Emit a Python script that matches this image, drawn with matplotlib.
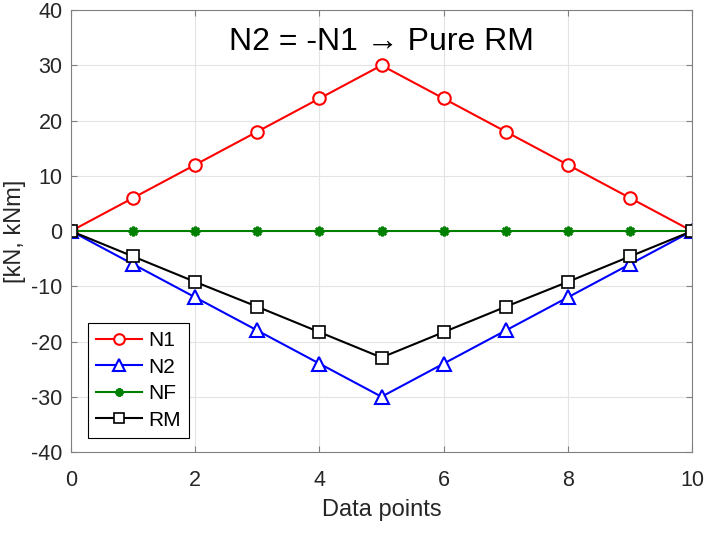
import matplotlib
matplotlib.use("Agg")
import matplotlib.pyplot as plt

plt.rcParams["font.family"] = ["Liberation Sans", "DejaVu Sans"]
plt.rcParams["axes.unicode_minus"] = False

x = list(range(11))
n1 = [0, 6, 12, 18, 24, 30, 24, 18, 12, 6, 0]
n2 = [0, -6, -12, -18, -24, -30, -24, -18, -12, -6, 0]
nf = [0] * 11
rm = [0, -4.6, -9.2, -13.7, -18.3, -22.9, -18.3, -13.7, -9.2, -4.6, 0]

fig = plt.figure(figsize=(7.12, 5.33), dpi=100)
ax = fig.add_axes([0.0997, 0.152, 0.8723, 0.829])

ax.plot(x, n1, color="#ff0000", marker="o", ms=9, mfc="white", mew=1.5, lw=1.5, label="N1")
ax.plot(x, n2, color="#0000ff", marker="^", ms=10, mfc="white", mew=1.5, lw=1.5, label="N2")
ax.plot(x, nf, color="#008000", marker=(8, 2, 0), ms=7, mew=1.8, lw=1.5, label="NF")
ax.plot(x, rm, color="black", marker="s", ms=8, mfc="white", mew=1.2, lw=1.5, label="RM")

ax.set_xlim(0, 10)
ax.set_ylim(-40, 40)
ax.set_xticks(range(0, 11, 2))
ax.set_yticks(range(-40, 41, 10))
ax.grid(True, color="#e3e3e3", lw=0.8)
ax.set_axisbelow(True)
for s in ax.spines.values():
    s.set_color("#808080")
ax.tick_params(labelsize=15.5, labelcolor="#262626", color="#808080",
               direction="in", length=4, top=True, right=True)
ax.tick_params(axis="x", pad=13)
ax.tick_params(axis="y", pad=6)
ax.set_xlabel("Data points", fontsize=17, color="#262626", labelpad=6)
ax.set_ylabel("[kN, kNm]", fontsize=17, color="#262626")
ax.text(5, 34.2, "N2 = -N1 \u2192 Pure RM", ha="center", va="center", fontsize=23)

leg = ax.legend(loc="lower left", bbox_to_anchor=(0.027, 0.032), fontsize=15,
                fancybox=False, framealpha=1, edgecolor="black",
                handlelength=2.2, handletextpad=0.3, borderpad=0.4,
                labelspacing=0.36, borderaxespad=0, markerscale=0.85)
leg.get_frame().set_linewidth(0.8)

fig.savefig("out.png", dpi=100)
